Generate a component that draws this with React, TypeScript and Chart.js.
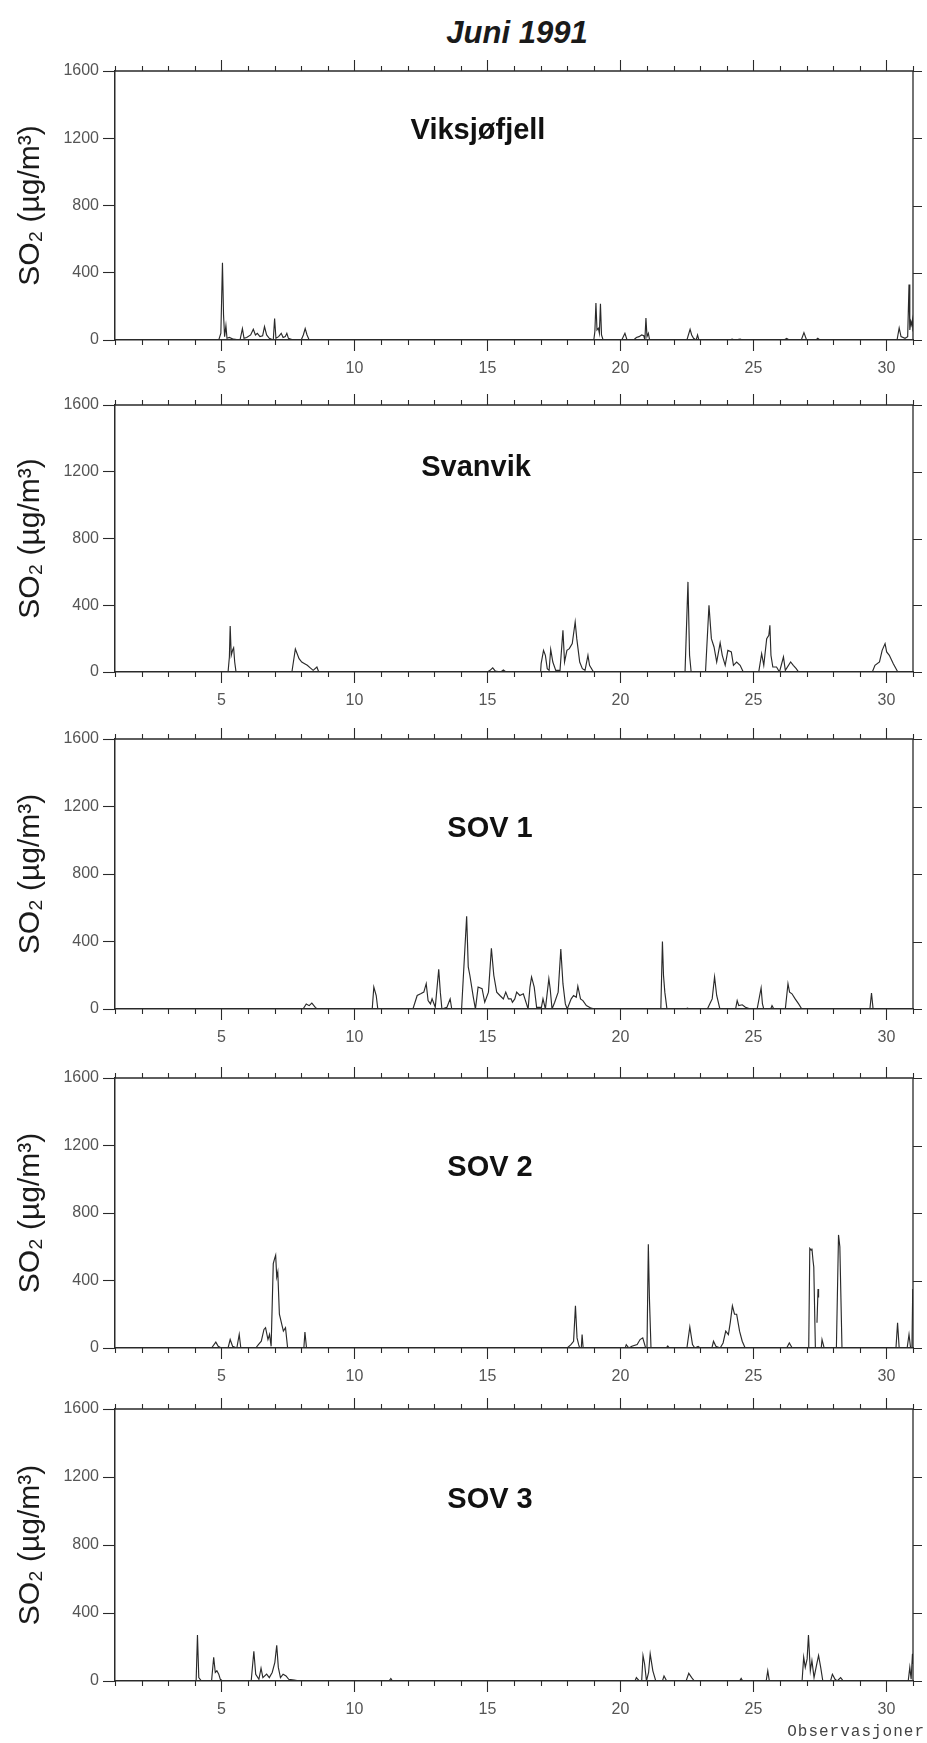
import React, { useEffect, useRef } from 'react';
import { Chart, registerables } from 'chart.js';

Chart.register(...registerables);

// ---------- data (day of month, SO2 µg/m³) ----------
const stationNames = ['Viksjøfjell', 'Svanvik', 'SOV 1', 'SOV 2', 'SOV 3'];
const yTickValues = [0, 400, 800, 1200, 1600];
const xLabelDays = [5, 10, 15, 20, 25, 30];
const pageTitle = 'Juni 1991';
const yTitle = 'SO₂ (µg/m³)';
const xTitle = 'Observasjoner';

type P = [number, number | null];

const viksjofjell: P[] = [
  [1, 0], [4.9, 0], [4.98, 40], [5.04, 460], [5.08, 150], [5.12, 20], [5.17, 85], [5.21, 10], [5.3, 15], [5.45, 5],
  [5.7, 0], [5.79, 68], [5.85, 10], [5.95, 15], [6.1, 30], [6.2, 64], [6.28, 30], [6.35, 40], [6.45, 20], [6.55, 25],
  [6.62, 80], [6.7, 30], [6.8, 10], [6.95, 0], [7.0, 128], [7.05, 10], [7.15, 20], [7.25, 40], [7.32, 15], [7.4, 20],
  [7.46, 40], [7.52, 10], [7.7, 0], [8.0, 0], [8.08, 30], [8.15, 68], [8.22, 30], [8.3, 0],
  [18.5, 0], [19.0, 0], [19.04, 50], [19.08, 220], [19.12, 60], [19.17, 70], [19.21, 40], [19.25, 215], [19.29, 30], [19.35, 0],
  [20.05, 0], [20.17, 40], [20.25, 0], [20.5, 0], [20.6, 15], [20.7, 20], [20.8, 30], [20.88, 25], [20.92, 0], [20.96, 130],
  [21.0, 20], [21.05, 40], [21.1, 0],
  [22.5, 0], [22.62, 64], [22.68, 30], [22.75, 10], [22.85, 0], [22.9, 30], [22.95, 0],
  [24.1, 0], [24.2, 5], [24.3, 0], [24.5, 5], [24.6, 0],
  [26.15, 0], [26.25, 10], [26.35, 0], [26.8, 0], [26.9, 44], [27.0, 0], [27.35, 0], [27.42, 10], [27.5, 0],
  [30.4, 0], [30.48, 72], [30.55, 20], [30.7, 10], [30.8, 20], [30.85, 330], [30.88, 60], [30.92, 110], [30.95, 90],
  [30.98, 120], [31, 50],
];

const svanvik: P[] = [
  [1, 0], [5.25, 0], [5.3, 90], [5.33, 275], [5.37, 100], [5.42, 130], [5.46, 145], [5.5, 60], [5.55, 0],
  [7.65, 0], [7.78, 138], [7.92, 80], [8.02, 60], [8.13, 50], [8.23, 40], [8.34, 25], [8.45, 10], [8.59, 30], [8.66, 0],
  [15.0, 0], [15.1, 10], [15.2, 25], [15.3, 5], [15.5, 0], [15.6, 12], [15.7, 0],
  [17.0, 0], [17.02, 50], [17.11, 130], [17.18, 100], [17.25, 20], [17.32, 10], [17.38, 135], [17.46, 60], [17.57, 10],
  [17.73, 10], [17.84, 250], [17.9, 60], [17.99, 130], [18.08, 140], [18.19, 170], [18.3, 300], [18.36, 200], [18.47, 60],
  [18.57, 20], [18.67, 10], [18.78, 100], [18.84, 40], [18.99, 0],
  [22.43, 0], [22.54, 540], [22.6, 100], [22.66, 0],
  [23.2, 0], [23.33, 400], [23.42, 200], [23.52, 150], [23.62, 60], [23.75, 175], [23.83, 100], [23.94, 40], [24.04, 130],
  [24.17, 120], [24.25, 40], [24.37, 60], [24.5, 40], [24.62, 0],
  [25.2, 0], [25.31, 110], [25.39, 40], [25.5, 200], [25.58, 220], [25.62, 280], [25.66, 100], [25.73, 30], [25.87, 30],
  [25.98, 0], [26.13, 90], [26.2, 10], [26.4, 60], [26.5, 40], [26.61, 20], [26.7, 0],
  [29.47, 0], [29.57, 40], [29.74, 60], [29.84, 130], [29.95, 170], [30.01, 120], [30.11, 100], [30.26, 50], [30.43, 0], [31, 0],
];

const sov1: P[] = [
  [1, 0], [8.07, 0], [8.19, 30], [8.3, 20], [8.4, 35], [8.53, 10], [8.6, 0],
  [10.67, 0], [10.73, 130], [10.82, 80], [10.88, 0],
  [12.2, 0], [12.36, 80], [12.49, 90], [12.61, 100], [12.7, 150], [12.77, 50], [12.86, 30], [12.92, 60], [13.04, 10],
  [13.17, 235], [13.23, 100], [13.29, 0], [13.48, 10], [13.6, 60], [13.66, 0],
  [14.03, 0], [14.22, 550], [14.28, 250], [14.34, 200], [14.47, 70], [14.55, 0], [14.65, 130], [14.8, 120], [14.9, 40],
  [15.04, 100], [15.15, 360], [15.24, 200], [15.35, 100], [15.47, 80], [15.6, 60], [15.69, 100], [15.79, 60], [15.89, 60],
  [15.94, 40], [16.03, 60], [16.1, 100], [16.22, 80], [16.35, 90], [16.47, 30], [16.53, 0], [16.6, 130], [16.66, 190],
  [16.76, 130], [16.85, 10], [17.03, 10], [17.09, 60], [17.18, 0], [17.31, 180], [17.36, 120], [17.43, 0], [17.53, 40],
  [17.66, 100], [17.76, 355], [17.84, 150], [17.93, 30], [18.0, 0], [18.15, 60], [18.24, 80], [18.34, 70], [18.4, 135],
  [18.5, 60], [18.59, 50], [18.72, 20], [18.9, 5], [19.03, 0],
  [21.52, 0], [21.58, 400], [21.62, 200], [21.67, 100], [21.75, 0],
  [22.45, 0], [22.52, 5], [22.6, 0],
  [23.27, 0], [23.39, 40], [23.45, 60], [23.54, 190], [23.62, 80], [23.74, 0],
  [24.33, 0], [24.39, 50], [24.45, 20], [24.58, 25], [24.7, 10], [24.89, 0],
  [25.14, 0], [25.29, 125], [25.34, 30], [25.39, 0], [25.65, 0], [25.7, 20], [25.77, 0],
  [26.2, 0], [26.3, 150], [26.36, 100], [26.45, 90], [26.57, 60], [26.7, 30], [26.82, 0],
  [29.38, 0], [29.44, 95], [29.5, 0], [31, 0],
];

const sov2: P[] = [
  [1, 0], [4.63, 0], [4.79, 35], [4.88, 10], [5.0, 0], [5.25, 0], [5.33, 50], [5.42, 10], [5.58, 0], [5.67, 80], [5.73, 0],
  [6.29, 0], [6.39, 20], [6.5, 40], [6.6, 110], [6.66, 120], [6.75, 50], [6.81, 80], [6.87, 10], [6.95, 500], [7.0, 530],
  [7.04, 550], [7.08, 420], [7.12, 450], [7.18, 200], [7.27, 140], [7.33, 100], [7.41, 120], [7.49, 0],
  [8.1, 0], [8.14, 95], [8.2, 0],
  [18.0, 0], [18.14, 20], [18.24, 40], [18.31, 250], [18.37, 60], [18.43, 20], [18.47, 0], [18.53, 0], [18.56, 80], [18.6, 0],
  [20.18, 0], [20.22, 20], [20.32, 0], [20.43, 10], [20.63, 20], [20.74, 50], [20.84, 60], [20.95, 0], [21.0, 0],
  [21.05, 615], [21.09, 300], [21.15, 0],
  [21.72, 0], [21.78, 12], [21.84, 0],
  [22.5, 0], [22.61, 125], [22.71, 20], [22.8, 0], [22.92, 10], [23.0, 0],
  [23.44, 0], [23.5, 40], [23.59, 10], [23.75, 0], [23.86, 30], [23.96, 100], [24.06, 80], [24.13, 150], [24.21, 250],
  [24.29, 200], [24.37, 200], [24.48, 100], [24.58, 40], [24.69, 0],
  [26.25, 0], [26.35, 30], [26.46, 0],
  [27.08, 0], [27.12, 590], [27.17, 580], [27.2, 590], [27.24, 520], [27.27, 480], [27.33, 0],
  [27.55, 0], [27.58, 50], [27.66, 0],
  [28.12, 0], [28.2, 670], [28.25, 600], [28.33, 0],
  [30.36, 0], [30.42, 150], [30.48, 0],
  [30.78, 0], [30.85, 80], [30.91, 0], [30.96, 0], [30.99, 350], [31, 200],
];
const sov2Floating: P[] = [[27.39, 150], [27.43, 350], [27.45, 300]];

const sov3: P[] = [
  [1, 0], [4.05, 0], [4.1, 270], [4.15, 20], [4.25, 0],
  [4.63, 0], [4.71, 140], [4.77, 50], [4.83, 60], [4.9, 40], [4.96, 10], [5.04, 0],
  [6.12, 0], [6.22, 175], [6.29, 40], [6.41, 10], [6.49, 75], [6.56, 20], [6.7, 40], [6.8, 20], [6.91, 50], [7.01, 110],
  [7.08, 210], [7.14, 80], [7.22, 20], [7.32, 40], [7.43, 30], [7.53, 10], [7.74, 5], [7.95, 0],
  [11.3, 0], [11.37, 15], [11.43, 0],
  [20.55, 0], [20.6, 20], [20.71, 0], [20.8, 0], [20.85, 150], [20.91, 100], [20.98, 0], [21.06, 50], [21.12, 160],
  [21.22, 60], [21.33, 0], [21.58, 0], [21.64, 30], [21.74, 0],
  [22.47, 0], [22.57, 45], [22.68, 20], [22.78, 0],
  [24.48, 0], [24.54, 15], [24.6, 0],
  [25.48, 0], [25.54, 60], [25.6, 0],
  [26.83, 0], [26.89, 140], [26.95, 80], [27.02, 130], [27.07, 270], [27.14, 60], [27.2, 120], [27.28, 20], [27.37, 90],
  [27.45, 150], [27.53, 80], [27.61, 0],
  [27.9, 0], [27.97, 40], [28.07, 10], [28.15, 0], [28.28, 20], [28.38, 0],
  [30.82, 0], [30.88, 80], [30.93, 10], [30.98, 160], [31, 100],
];

const stationSeries: P[][] = [viksjofjell, svanvik, sov1, sov2, sov3];
const stationFloating: P[][] = [[], [], [], sov2Floating, []];

// ---------- layout ----------
const PAGE_W = 927;
const PLOT_LEFT = 115;
const PLOT_RIGHT = 913;
const PAD_TOP = 24;
const X_AXIS_H = 44;
const panelTops = [71, 405, 739, 1078, 1409];
const panelHeights = [269, 267, 270, 270, 272];
const labelOffsets = [60, 63, 90, 90, 91];
const labelCenters = [478, 476, 490, 490, 490];

const INK = '#2a2a2a';
const TICK_FONT = { family: '"Liberation Sans", Arial, sans-serif', size: 16 };

const framePlugin = {
  id: 'frame',
  afterDraw(chart: any, _args: any, opts: any) {
    const { ctx, chartArea } = chart;
    const { left, right, top, bottom } = chartArea;
    const x = chart.scales.x;
    const y = chart.scales.y;
    ctx.save();
    ctx.strokeStyle = INK;
    ctx.lineWidth = 1.3;
    ctx.beginPath();
    ctx.moveTo(left, top);
    ctx.lineTo(right, top);
    ctx.lineTo(right, bottom);
    ctx.stroke();
    ctx.lineWidth = 1.1;
    ctx.beginPath();
    for (let d = 1; d <= 31; d++) {
      const px = Math.round(x.getPixelForValue(d)) + 0.5;
      const len = d % 5 === 0 ? 11 : 5;
      ctx.moveTo(px, bottom);
      ctx.lineTo(px, bottom + len);
      ctx.moveTo(px, top);
      ctx.lineTo(px, top - len);
    }
    yTickValues.forEach((v) => {
      const py = Math.round(y.getPixelForValue(v)) + 0.5;
      ctx.moveTo(right, py);
      ctx.lineTo(right + 9, py);
    });
    ctx.stroke();
    ctx.fillStyle = '#111';
    ctx.font = 'bold 29px "Liberation Sans", Arial, sans-serif';
    ctx.textAlign = 'center';
    ctx.textBaseline = 'middle';
    ctx.fillText(opts.label, opts.cx, top + opts.offset);
    ctx.restore();
  },
};

function toXY(points: P[]) {
  return points.map(([x, y]) => ({ x, y }));
}

function Panel({ index }: { index: number }) {
  const ref = useRef<HTMLCanvasElement | null>(null);
  const h = panelHeights[index];
  const canvasH = PAD_TOP + h + X_AXIS_H;
  useEffect(() => {
    if (!ref.current) return;
    const chart = new Chart(ref.current, {
      type: 'line',
      data: {
        datasets: [
          {
            data: toXY(stationSeries[index]) as any,
            borderColor: INK,
            borderWidth: 1.15,
            pointRadius: 0,
            tension: 0,
            fill: false,
            spanGaps: false,
          },
          {
            data: toXY(stationFloating[index]) as any,
            borderColor: INK,
            borderWidth: 1.15,
            pointRadius: 0,
            tension: 0,
            fill: false,
          },
        ],
      },
      options: {
        responsive: false,
        animation: false,
        events: [],
        layout: { padding: { top: PAD_TOP, right: PAGE_W - PLOT_RIGHT, left: 0, bottom: 0 } },
        plugins: {
          legend: { display: false },
          tooltip: { enabled: false },
          frame: { label: stationNames[index], offset: labelOffsets[index], cx: labelCenters[index] },
        } as any,
        scales: {
          x: {
            type: 'linear',
            min: 1,
            max: 31,
            position: 'bottom',
            afterBuildTicks: (s: any) => {
              s.ticks = xLabelDays.map((v) => ({ value: v }));
            },
            afterFit: (s: any) => {
              s.height = X_AXIS_H;
            },
            ticks: {
              autoSkip: false,
              maxRotation: 0,
              padding: 19,
              color: '#555',
              font: TICK_FONT,
              callback: (v: any) => String(v),
            },
            grid: { display: false, drawTicks: false },
            border: { display: true, color: INK, width: 1.5 },
          },
          y: {
            type: 'linear',
            min: 0,
            max: 1600,
            afterBuildTicks: (s: any) => {
              s.ticks = yTickValues.map((v) => ({ value: v }));
            },
            afterFit: (s: any) => {
              s.width = PLOT_LEFT;
            },
            ticks: { color: '#555', font: TICK_FONT, padding: 4, callback: (v: any) => String(v) },
            grid: { drawOnChartArea: false, tickLength: 12, color: INK, tickColor: INK, tickWidth: 1.1 },
            border: { display: true, color: INK, width: 1.5 },
            title: {
              display: true,
              text: yTitle,
              color: '#1a1a1a',
              font: { family: '"Liberation Sans", Arial, sans-serif', size: 30 },
              padding: { top: 13, bottom: 0 },
            },
          },
        },
      },
      plugins: [framePlugin],
    });
    return () => chart.destroy();
  }, [index]);
  return (
    <canvas
      ref={ref}
      width={PAGE_W}
      height={canvasH}
      style={{ position: 'absolute', left: 0, top: panelTops[index] - PAD_TOP, width: PAGE_W, height: canvasH }}
    />
  );
}

export default function App() {
  return (
    <div style={{ position: 'absolute', left: 0, top: 0, width: PAGE_W, height: 1743, background: '#fff', overflow: 'hidden' }}>
      <div
        style={{
          position: 'absolute',
          left: 517,
          top: 16,
          transform: 'translateX(-50%)',
          fontFamily: '"Liberation Sans", Arial, sans-serif',
          fontWeight: 'bold',
          fontStyle: 'italic',
          fontSize: 31,
          lineHeight: '34px',
          color: '#1a1a1a',
          whiteSpace: 'nowrap',
        }}
      >
        {pageTitle}
      </div>
      {stationNames.map((_, i) => (
        <Panel key={i} index={i} />
      ))}
      <div
        style={{
          position: 'absolute',
          right: 2,
          top: 1722,
          fontFamily: '"Liberation Mono", "DejaVu Sans Mono", monospace',
          fontSize: 16,
          letterSpacing: 1,
          lineHeight: '20px',
          color: '#444',
          whiteSpace: 'nowrap',
        }}
      >
        {xTitle}
      </div>
    </div>
  );
}
